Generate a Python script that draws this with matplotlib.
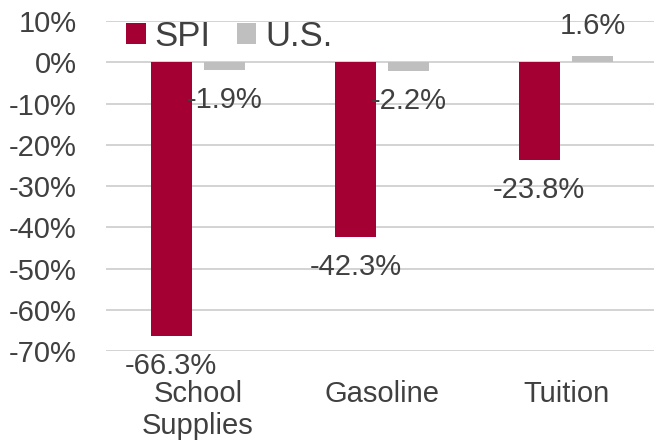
import matplotlib.pyplot as plt
import numpy as np

plt.rcParams['font.family'] = ['Liberation Sans', 'DejaVu Sans']

# datos
categorias = ["School\nSupplies", "Gasoline", "Tuition"]
spi = [-66.3, -42.3, -23.8]
us = [-1.9, -2.2, 1.6]
series = ["SPI", "U.S."]

color_spi = "#A50034"
color_us = "#BFBFBF"
color_txt = "#404040"

fig = plt.figure(figsize=(6.54, 4.44), dpi=100)
ax = fig.add_axes([106 / 654, 1 - 351 / 444, 552 / 654, 330 / 444])

x = np.arange(len(categorias))
ancho = 0.223
off = 0.145
b1 = ax.bar(x - off, spi, ancho, color=color_spi, label=series[0], zorder=3)
b2 = ax.bar(x + off, us, ancho, color=color_us, label=series[1], zorder=3)

# etiquetas de datos
for barras, vals in [(b1, spi), (b2, us)]:
    for b, v in zip(barras, vals):
        dy = -21.5 if v < 0 else 21
        ax.annotate(f"{v:.1f}%", (b.get_x() + b.get_width() / 2, v),
                    xytext=(0, dy), textcoords="offset points",
                    ha="center", va="center", fontsize=21, color=color_txt,
                    zorder=4)

ax.set_xlim(-0.5, 2.5)
ax.set_ylim(-70, 10)
ax.set_yticks(np.arange(-70, 11, 10))
ax.set_yticklabels([f"{t}%" for t in range(-70, 11, 10)])
ax.set_xticks(x)
ax.set_xticklabels(categorias, linespacing=1.18)
ax.tick_params(axis="y", length=0, pad=21, labelsize=21, labelcolor=color_txt)
ax.tick_params(axis="x", length=0, pad=21, labelsize=21, labelcolor=color_txt)
ax.grid(axis="y", color="#C8C8C8", linewidth=1.1, zorder=0)
for s in ax.spines.values():
    s.set_visible(False)

ax.legend(loc="center left", bbox_to_anchor=(126 / 654, 1 - 36 / 444),
          bbox_transform=fig.transFigure, ncol=2, frameon=False,
          fontsize=25, handlelength=0.57, handleheight=0.57,
          handletextpad=0.25, columnspacing=0.75, borderpad=0,
          borderaxespad=0, labelcolor=color_txt)

fig.savefig("out.png", dpi=100)
